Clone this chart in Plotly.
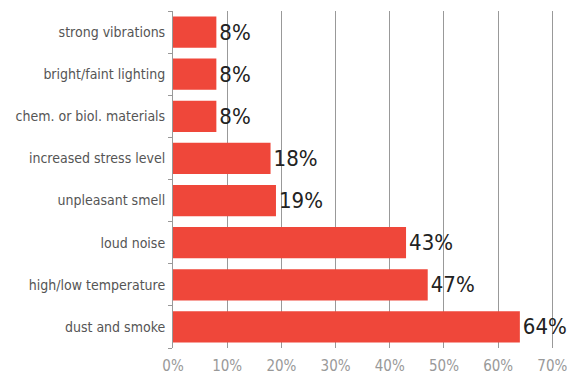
import plotly.graph_objects as go

categories = ["dust and smoke", "high/low temperature", "loud noise", "unpleasant smell",
              "increased stress level", "chem. or biol. materials", "bright/faint lighting",
              "strong vibrations"]
values = [64, 47, 43, 19, 18, 8, 8, 8]
tick_vals = [0, 10, 20, 30, 40, 50, 60, 70]
tick_text = [f"{v}%" for v in tick_vals]

FONT = "DejaVu Sans Condensed, Roboto, sans-serif"

fig = go.Figure(go.Bar(
    x=values, y=categories, orientation="h",
    marker=dict(color="#EF473A", line=dict(width=0)),
    text=[f"{v}%" for v in values], textposition="outside",
    textfont=dict(family=FONT, size=22, color="#222222"),
    cliponaxis=False,
))

fig.update_layout(
    width=567, height=379,
    margin=dict(l=173, r=13, t=11, b=31),
    plot_bgcolor="white", paper_bgcolor="white",
    bargap=0.26, showlegend=False,
    font=dict(family=FONT, color="#555555"),
)
fig.update_xaxes(range=[0, 70.3], tickvals=tick_vals, ticktext=tick_text,
                 showgrid=True, gridcolor="#999999", gridwidth=1,
                 zeroline=False, showline=False, ticks="", automargin=False,
                 ticklabeloverflow="allow", ticklabelstandoff=7,
                 tickfont=dict(size=15, color="#999999"))
fig.update_yaxes(showline=True, linecolor="#999999", linewidth=1,
                 ticks="outside", tickson="boundaries", ticklen=4, tickcolor="#999999",
                 ticklabelstandoff=4, automargin=False,
                 showgrid=False, tickfont=dict(size=14, color="#555555"))

fig.write_html("out.html")
